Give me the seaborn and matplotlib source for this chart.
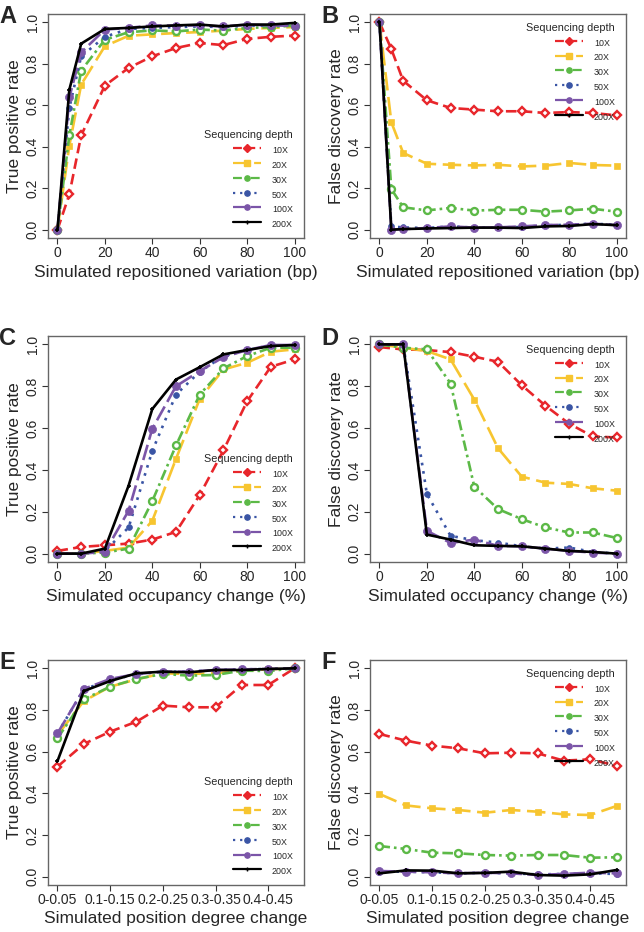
import numpy as np
import pandas as pd
import matplotlib
matplotlib.use("Agg")
import matplotlib.pyplot as plt
import seaborn as sns

# ---- data ----
depths = ["10X", "20X", "30X", "50X", "100X", "200X"]

# A / B: repositioned variation (bp)
reposition_bp = [0, 5, 10, 20, 30, 40, 50, 60, 70, 80, 90, 100]
tpr_reposition = {
    "10X": [0.0, 0.17, 0.455, 0.695, 0.78, 0.836, 0.876, 0.90, 0.89, 0.92, 0.93, 0.936],
    "20X": [0.0, 0.405, 0.70, 0.885, 0.935, 0.942, 0.948, 0.953, 0.96, 0.968, 0.973, 0.977],
    "30X": [0.0, 0.455, 0.767, 0.916, 0.952, 0.961, 0.956, 0.965, 0.96, 0.973, 0.977, 0.984],
    "50X": [0.0, 0.587, 0.836, 0.93, 0.968, 0.973, 0.977, 0.98, 0.977, 0.984, 0.984, 0.989],
    "100X": [0.0, 0.638, 0.855, 0.965, 0.973, 0.985, 0.984, 0.985, 0.98, 0.989, 0.985, 0.983],
    "200X": [0.0, 0.675, 0.897, 0.968, 0.973, 0.98, 0.985, 0.989, 0.98, 0.989, 0.989, 0.997],
}
fdr_reposition = {
    "10X": [1.0, 0.871, 0.718, 0.624, 0.587, 0.579, 0.571, 0.571, 0.563, 0.567, 0.563, 0.551],
    "20X": [1.0, 0.518, 0.37, 0.318, 0.313, 0.31, 0.313, 0.305, 0.309, 0.322, 0.312, 0.309],
    "30X": [1.0, 0.196, 0.108, 0.093, 0.105, 0.092, 0.096, 0.096, 0.087, 0.093, 0.101, 0.087],
    "50X": [1.0, 0.016, 0.011, 0.008, 0.016, 0.01, 0.011, 0.013, 0.021, 0.024, 0.029, 0.024],
    "100X": [1.0, 0.0, 0.003, 0.008, 0.016, 0.01, 0.011, 0.016, 0.022, 0.024, 0.029, 0.022],
    "200X": [1.0, 0.0, 0.003, 0.006, 0.008, 0.01, 0.01, 0.008, 0.016, 0.018, 0.027, 0.022],
}

# C / D: occupancy change (%)
occupancy_pct = [0, 10, 20, 30, 40, 50, 60, 70, 80, 90, 100]
tpr_occupancy = {
    "10X": [0.013, 0.032, 0.04, 0.048, 0.067, 0.104, 0.28, 0.493, 0.728, 0.893, 0.928],
    "20X": [0.0, 0.0, 0.013, 0.029, 0.157, 0.453, 0.739, 0.88, 0.912, 0.965, 0.976],
    "30X": [0.0, 0.0, 0.005, 0.024, 0.251, 0.517, 0.76, 0.885, 0.944, 0.984, 0.984],
    "50X": [0.0, 0.0, 0.013, 0.125, 0.491, 0.76, 0.869, 0.944, 0.973, 0.995, 0.995],
    "100X": [0.0, 0.0, 0.008, 0.205, 0.597, 0.80, 0.872, 0.939, 0.973, 0.997, 0.997],
    "200X": [0.0, 0.0, 0.024, 0.325, 0.691, 0.832, 0.891, 0.952, 0.973, 0.992, 0.997],
}
fdr_occupancy = {
    "10X": [0.987, 0.976, 0.973, 0.963, 0.941, 0.917, 0.805, 0.707, 0.621, 0.56, 0.555],
    "20X": [1.0, 0.984, 0.968, 0.928, 0.736, 0.504, 0.368, 0.339, 0.333, 0.312, 0.301],
    "30X": [1.0, 0.984, 0.976, 0.813, 0.32, 0.213, 0.165, 0.125, 0.101, 0.101, 0.075],
    "50X": [1.0, 1.0, 0.285, 0.085, 0.064, 0.053, 0.035, 0.024, 0.029, 0.008, 0.0],
    "100X": [1.0, 1.0, 0.109, 0.051, 0.067, 0.037, 0.035, 0.024, 0.013, 0.005, 0.0],
    "200X": [1.0, 1.0, 0.091, 0.067, 0.04, 0.037, 0.035, 0.024, 0.013, 0.008, 0.0],
}

# E / F: position degree change
degree_bins = ["0-0.05", "0.05-0.1", "0.1-0.15", "0.15-0.2", "0.2-0.25",
               "0.25-0.3", "0.3-0.35", "0.35-0.4", "0.4-0.45", "0.45-0.5"]
tpr_degree = {
    "10X": [0.528, 0.637, 0.696, 0.744, 0.821, 0.813, 0.813, 0.92, 0.92, 1.0],
    "20X": [0.68, 0.843, 0.912, 0.947, 0.976, 0.973, 0.976, 0.989, 0.995, 1.0],
    "30X": [0.664, 0.851, 0.912, 0.949, 0.973, 0.965, 0.968, 0.989, 0.987, 1.0],
    "50X": [0.688, 0.899, 0.944, 0.971, 0.984, 0.984, 0.992, 0.995, 0.997, 1.0],
    "100X": [0.688, 0.901, 0.949, 0.973, 0.984, 0.984, 0.992, 0.995, 0.997, 1.0],
    "200X": [0.555, 0.891, 0.939, 0.976, 0.984, 0.981, 0.992, 0.992, 0.997, 1.0],
}
fdr_degree = {
    "10X": [0.685, 0.653, 0.629, 0.616, 0.592, 0.595, 0.592, 0.557, 0.563, 0.533],
    "20X": [0.397, 0.342, 0.328, 0.32, 0.307, 0.32, 0.312, 0.299, 0.296, 0.339],
    "30X": [0.147, 0.133, 0.115, 0.112, 0.104, 0.101, 0.104, 0.104, 0.091, 0.093],
    "50X": [0.024, 0.024, 0.021, 0.016, 0.019, 0.016, 0.011, 0.013, 0.016, 0.013],
    "100X": [0.027, 0.024, 0.021, 0.016, 0.019, 0.016, 0.008, 0.013, 0.019, 0.016],
    "200X": [0.016, 0.03, 0.029, 0.016, 0.018, 0.024, 0.008, 0.005, 0.011, 0.032],
}

# ---- styles per sequencing depth ----
colors = {"10X": "#e8262b", "20X": "#f7c530", "30X": "#5cb947",
          "50X": "#3a55a5", "100X": "#7b55a8", "200X": "#000000"}
dashes = {"10X": (4, 2), "20X": (7, 2.5), "30X": (4, 1.5, 1, 1.5),
          "50X": (1, 2.2), "100X": (6, 2), "200X": ""}
markers = {"10X": "D", "20X": "s", "30X": "o", "50X": "o", "100X": "o", "200X": "+"}
msizes = {"10X": 4.5, "20X": 4.8, "30X": 5.0, "50X": 4.2, "100X": 5.8, "200X": 3.5}
open_face = {"10X", "30X"}

sns.set_style("ticks")
plt.rcParams["font.family"] = ["Liberation Sans", "DejaVu Sans"]
plt.rcParams["legend.labelspacing"] = 0.22
plt.rcParams["legend.handlelength"] = 2.0
plt.rcParams["legend.handletextpad"] = 0.8
plt.rcParams["legend.borderpad"] = 0.3

fig = plt.figure(figsize=(6.44, 9.32), dpi=100)
W, H = 644, 932


def px_axes(left, top, right, bottom):
    return fig.add_axes([left / W, 1 - bottom / H, (right - left) / W, (bottom - top) / H])


def draw_panel(ax, x, series, xlabel, ylabel, letter, legend_loc):
    for d in depths:
        df = pd.DataFrame({"x": x, "y": series[d]})
        sns.lineplot(data=df, x="x", y="y", ax=ax, color=colors[d], lw=1.9,
                     marker=markers[d], markersize=msizes[d],
                     markerfacecolor="white" if d in open_face else colors[d],
                     markeredgecolor=colors[d],
                     markeredgewidth=1.7 if d in open_face else (1.2 if d == "200X" else 0.5),
                     label=d, legend=False)
        ln = ax.get_lines()[-1]
        if dashes[d]:
            ln.set_dashes(dashes[d])
    ax.set_ylim(-0.04, 1.04)
    ax.set_yticks([0, 0.2, 0.4, 0.6, 0.8, 1.0])
    ax.set_yticklabels(["0.0", "0.2", "0.4", "0.6", "0.8", "1.0"], rotation=90, va="center")
    ax.set_xlabel(xlabel, fontsize=12.5, labelpad=3)
    ax.set_ylabel(ylabel, fontsize=12.5, labelpad=3)
    ax.tick_params(labelsize=10, length=4, width=0.8, color="#333333", pad=2)
    for s in ax.spines.values():
        s.set_color("#666666")
        s.set_linewidth(1.0)
    ax.text(-0.19, 1.04, letter, transform=ax.transAxes, fontsize=17, fontweight="bold",
            ha="left", va="top")

    # legend: small filled markers on styled line segments
    handles = []
    for d, ln in zip(depths, ax.get_lines()):
        h = plt.Line2D([], [], color=colors[d], lw=1.6, marker=markers[d],
                       markersize=3.8 if d != "200X" else 3.5,
                       markerfacecolor=colors[d], markeredgecolor=colors[d],
                       markeredgewidth=1.0)
        if dashes[d]:
            h.set_dashes(dashes[d])
        handles.append(h)
    if legend_loc == "upper":
        leg = ax.legend(handles, depths, loc="upper right", bbox_to_anchor=(1.0, 1.01))
    else:
        leg = ax.legend(handles, depths, loc="lower right", bbox_to_anchor=(1.0, -0.01))
    leg.set_title("Sequencing depth", prop={"size": 7.8})
    for t in leg.get_texts():
        t.set_fontsize(6.4)
    leg.set_frame_on(False)
    leg._legend_box.align = "right"


axA = px_axes(48, 14, 304, 238)
axB = px_axes(370, 14, 626, 238)
axC = px_axes(48, 336, 304, 562)
axD = px_axes(370, 336, 626, 562)
axE = px_axes(48, 660, 304, 885)
axF = px_axes(370, 660, 626, 885)

draw_panel(axA, reposition_bp, tpr_reposition, "Simulated repositioned variation (bp)",
           "True positive rate", "A", "lower")
draw_panel(axB, reposition_bp, fdr_reposition, "Simulated repositioned variation (bp)",
           "False discovery rate", "B", "upper")
draw_panel(axC, occupancy_pct, tpr_occupancy, "Simulated occupancy change (%)",
           "True positive rate", "C", "lower")
draw_panel(axD, occupancy_pct, fdr_occupancy, "Simulated occupancy change (%)",
           "False discovery rate", "D", "upper")

pos = list(range(1, len(degree_bins) + 1))
draw_panel(axE, pos, tpr_degree, "Simulated position degree change",
           "True positive rate", "E", "lower")
draw_panel(axF, pos, fdr_degree, "Simulated position degree change",
           "False discovery rate", "F", "upper")

for ax in (axA, axB, axC, axD):
    ax.set_xlim(-4, 104)
    ax.set_xticks([0, 20, 40, 60, 80, 100])

for ax in (axE, axF):
    ax.set_xlim(0.64, 10.36)
    ax.set_xticks(pos[::2])
    ax.set_xticklabels(degree_bins[::2])

fig.savefig("out.png", dpi=100)
